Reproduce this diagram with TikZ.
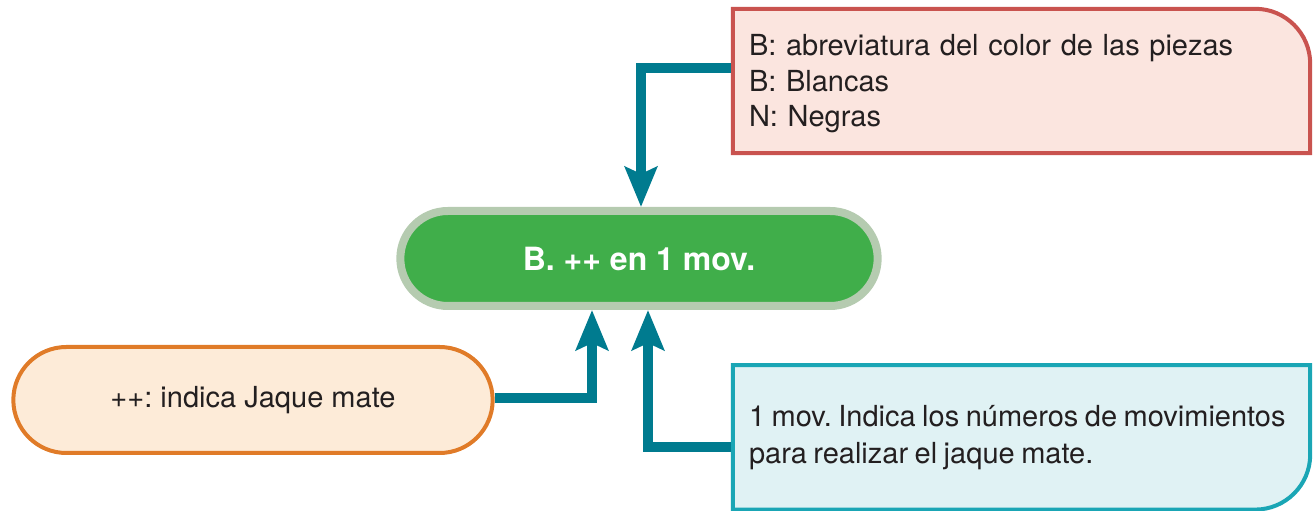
\documentclass[tikz,border=0pt]{standalone}
\usepackage{fontspec}
\setmainfont{TeX Gyre Heros}
\usepackage{tikz}
\usetikzlibrary{positioning,arrows.meta,shapes.misc,backgrounds}
\definecolor{inkteal}{HTML}{007B8F}
\definecolor{redline}{HTML}{C9534F}
\definecolor{redfill}{HTML}{FBE5DF}
\definecolor{cyanline}{HTML}{1AA6B5}
\definecolor{cyanfill}{HTML}{E0F2F4}
\definecolor{orline}{HTML}{E07B28}
\definecolor{orfill}{HTML}{FDEBD8}
\definecolor{goalgreen}{HTML}{40AE4A}
\definecolor{goalhalo}{HTML}{B5CBB0}
\definecolor{txt}{HTML}{231F20}
\frenchspacing
\tikzset{
  goalpill/.style={rounded rectangle, draw=goalhalo, fill=goalgreen,
              line width=8pt, minimum width=484pt, minimum height=95pt,
              font=\fontsize{32}{38}\selectfont\bfseries, text=white},
  keypill/.style={rounded rectangle, draw=orline, fill=orfill,
              line width=4pt, minimum width=486pt, minimum height=106pt,
              font=\fontsize{29}{35}\selectfont, text=txt},
  note/.style={rectangle, minimum width=577pt, minimum height=144pt,
              text width=545pt, inner xsep=16pt, align=left,
              font=\fontsize{29}{35.5}\selectfont, text=txt},
  notebg/.style={draw=#1line, fill=#1fill, line width=4pt},
  ar/.style={-{Stealth[length=40pt,width=32pt,inset=7pt]}, line width=10pt, draw=inkteal},
}
\begin{document}
\begin{tikzpicture}[x=1pt, y=1pt]
  \useasboundingbox (0,0) rectangle (1314,511);
  \node[goalpill] (goal) at (639,252.5) {B. ++ en 1 mov.};
  \node[keypill] (jaque) at (253,111) {++: indica Jaque mate};
  \node[note] (color) at (1021.5,430) {\rule{0pt}{27pt}B: abreviatura del color de las piezas\\B: Blancas\\N: Negras};
  \node[note, below=212pt of color, font=\fontsize{29}{37}\selectfont] (movs)
    {\spaceskip=6.5pt 1 mov. Indica los números de movimientos\\para realizar el jaque mate.};

  \begin{scope}[on background layer]
    \draw[notebg=red] (color.south west) -- (color.north west)
      -- ([xshift=-55pt]color.north east) arc[start angle=90, end angle=0, radius=55pt]
      -- (color.south east) -- cycle;
    \draw[notebg=cyan] (movs.north west) -- (movs.north east)
      -- ([yshift=55pt]movs.south east) arc[start angle=0, end angle=-90, radius=55pt]
      -- (movs.south west) -- cycle;
  \end{scope}

  \draw[ar] ([xshift=-2pt,yshift=13pt]color.west) -| ([xshift=2pt]goal.north);
  \draw[ar] ([yshift=2pt]jaque.east) -| ([xshift=-47pt]goal.south);
  \draw[ar] ([xshift=-2pt,yshift=-10pt]movs.west) -| ([xshift=9pt]goal.south);
\end{tikzpicture}
\end{document}
